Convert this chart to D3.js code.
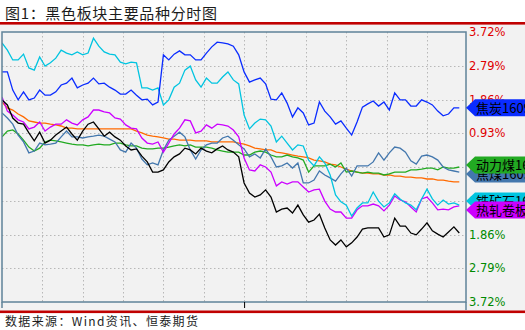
<!DOCTYPE html>
<html>
<head>
<meta charset="utf-8">
<script src="https://cdnjs.cloudflare.com/ajax/libs/d3/7.8.5/d3.min.js"></script>
<style>
body { margin:0; background:#ffffff; }
</style>
</head>
<body>
<script>
// time axis: minutes from the open, one sample every 4 minutes
var minutes = d3.range(0, 344, 4);

// y tick labels (percent change)
var yTicks = [3.72, 2.79, 1.86, 0.93, 0, -0.93, -1.86, -2.79, -3.72];
// vertical grid (minutes), 180 = day session start
var gridMinutes = [30, 60, 90, 120, 150, 180, 196, 226, 256, 286, 316];
var dayMark = [180];

// series values, % change
var jiaotan = [2.62,2.62,2.12,1.85,2.07,1.85,1.90,2.12,1.98,1.98,
  2.07,2.26,2.31,2.45,2.18,2.26,2.31,2.45,2.29,2.31,
  2.20,2.12,2.01,2.01,2.12,1.98,1.85,1.87,1.71,1.79,
  3.09,2.95,3.11,3.20,3.09,3.09,2.95,2.95,3.14,3.31,
  3.44,3.42,3.39,3.33,3.09,2.62,2.34,2.40,2.45,2.29,
  1.87,1.85,2.04,1.76,1.38,1.63,1.49,1.16,1.21,1.79,
  1.54,1.38,1.18,1.27,1.07,0.88,1.24,1.65,1.74,1.82,
  1.68,1.79,1.57,2.04,1.85,1.85,1.68,1.68,1.85,1.79,
  1.71,1.54,1.41,1.46,1.63,1.63];

var tiekuang = [3.42,3.22,2.95,2.95,3.11,2.73,2.67,3.03,2.78,2.87,
  3.00,3.22,3.14,3.09,3.17,3.09,3.14,3.55,3.33,3.17,
  3.11,3.09,2.89,2.84,2.89,2.87,2.18,2.18,2.12,2.18,
  1.71,1.85,2.20,2.31,2.67,2.78,2.40,2.20,2.45,2.31,
  2.31,2.48,2.62,2.40,2.29,1.43,1.05,1.21,1.32,1.30,
  1.13,0.69,0.85,0.66,0.47,0.61,0.58,0.19,0.03,0.28,
  0.11,-0.22,-0.77,-0.96,-1.05,-1.35,-1.13,-0.99,-0.99,-0.69,
  -0.94,-1.10,-0.99,-0.74,-0.88,-0.99,-1.05,-1.18,-0.88,-0.61,
  -0.88,-1.05,-0.91,-1.02,-0.99,-1.05];

var luowen = [1.85,1.71,1.35,1.21,1.18,0.94,0.72,0.96,0.66,0.74,
  0.88,0.99,1.10,0.91,0.74,0.99,1.18,1.24,1.05,0.85,
  0.96,0.83,0.74,0.58,0.47,0.50,0.30,0.14,-0.14,-0.14,
  -0.08,0.14,0.28,0.36,0.52,0.47,0.36,0.52,0.44,0.39,
  0.50,0.58,0.47,0.41,0.28,-0.44,-0.72,-0.83,-0.77,-0.63,
  -0.83,-1.24,-1.16,-1.13,-1.27,-1.05,-1.32,-1.52,-1.46,-1.30,
  -1.68,-2.01,-2.15,-2.01,-2.20,-2.09,-1.93,-1.71,-1.68,-1.68,
  -1.68,-1.93,-1.87,-1.41,-1.63,-1.63,-1.82,-1.87,-1.71,-1.54,
  -1.76,-1.85,-1.93,-1.79,-1.65,-1.82];

var rezha = [1.93,1.54,1.43,1.30,1.24,1.05,1.10,1.24,0.99,1.10,
  1.18,1.18,1.30,1.21,1.16,1.30,1.38,1.57,1.57,1.52,
  1.49,1.35,1.32,1.16,1.07,1.05,0.80,0.66,0.63,0.69,
  0.41,0.66,0.91,1.07,1.30,1.27,0.94,0.99,1.16,1.07,
  1.18,1.16,1.13,1.02,0.83,0.25,-0.08,-0.11,0.06,0.00,
  -0.14,-0.52,-0.41,-0.47,-0.41,-0.41,-0.55,-0.69,-0.63,-0.61,
  -0.94,-1.16,-1.24,-1.24,-1.41,-1.41,-1.18,-1.07,-1.07,-1.02,
  -1.07,-1.21,-1.05,-0.80,-0.91,-0.96,-1.10,-1.24,-0.88,-0.83,
  -0.99,-1.18,-1.16,-1.18,-1.10,-1.07];

var junjia = [1.79,1.63,1.57,1.46,1.38,1.27,1.24,1.21,1.21,1.18,
  1.16,1.13,1.07,1.07,1.05,1.05,1.05,1.05,1.05,1.05,
  1.05,1.05,1.05,1.05,1.05,0.99,0.94,0.88,0.85,0.83,
  0.80,0.77,0.77,0.74,0.74,0.74,0.72,0.72,0.72,0.69,
  0.69,0.69,0.69,0.69,0.66,0.63,0.58,0.52,0.50,0.47,
  0.47,0.41,0.39,0.36,0.33,0.30,0.28,0.25,0.19,0.17,
  0.14,0.08,0.06,0.00,-0.06,-0.11,-0.14,-0.17,-0.17,-0.19,
  -0.19,-0.22,-0.22,-0.25,-0.25,-0.28,-0.28,-0.30,-0.30,-0.33,
  -0.33,-0.36,-0.36,-0.39,-0.41,-0.41];

var jiaomei = [1.49,1.35,1.18,0.88,0.69,0.39,0.44,0.66,0.61,0.63,
  0.66,0.83,0.99,0.83,0.83,0.80,0.83,0.85,0.88,0.85,
  0.77,0.69,0.47,0.41,0.66,0.52,0.22,0.06,0.11,0.06,
  0.47,0.74,0.85,0.96,0.83,0.47,0.22,0.47,0.61,0.66,
  0.66,0.80,0.85,0.74,0.61,0.50,0.28,0.36,0.25,0.50,
  0.28,0.00,0.03,0.11,-0.03,0.11,-0.44,-0.44,-0.36,-0.11,
  -0.22,-0.30,-0.39,-0.19,-0.03,-0.25,0.03,0.03,0.03,0.14,
  0.39,0.19,0.39,0.55,0.52,0.41,0.17,0.08,0.30,0.33,
  0.28,0.19,0.00,-0.08,-0.11,-0.14];

var donglimei = [0.83,0.99,1.02,0.91,0.74,0.55,0.44,0.52,0.69,0.74,
  0.72,0.69,0.66,0.63,0.61,0.61,0.58,0.61,0.63,0.61,
  0.61,0.66,0.66,0.61,0.58,0.58,0.52,0.50,0.50,0.52,
  0.52,0.55,0.58,0.61,0.58,0.61,0.55,0.55,0.55,0.52,
  0.47,0.44,0.41,0.41,0.41,0.33,0.33,0.41,0.44,0.41,
  0.33,0.28,0.28,0.33,0.28,0.25,0.19,-0.14,0.03,0.03,
  0.03,0.08,0.00,0.11,-0.14,-0.11,-0.14,-0.17,-0.14,-0.17,
  -0.17,-0.22,-0.19,-0.14,-0.14,-0.14,-0.08,-0.08,-0.06,-0.03,
  -0.03,-0.08,0.00,-0.03,-0.03,0.00];

function DrawChart()
{
  var W = 525, H = 330;
  var plot = {left: 2, right: 466, top: 32, bottom: 302};

  // series table, drawing order = list order; tagOrder = order of the right-edge tags
  var series = [
    {name: "均价", values: junjia, color: "#ff6a00", tagOrder: -1},
    {name: "动力煤1609", values: donglimei, color: "#22aa22", tagOrder: 2},
    {name: "焦煤1609", values: jiaomei, color: "#4377ad", tagOrder: 1},
    {name: "热轧卷板1610", values: rezha, color: "#cc00ff", tagOrder: 4},
    {name: "铁矿石1609", values: tiekuang, color: "#00c4e0", tagOrder: 3},
    {name: "螺纹钢1610", values: luowen, color: "#000000", tagOrder: -1},
    {name: "焦炭1609", values: jiaotan, color: "#0a2cff", tagOrder: 0}
  ];

  var svg = d3.select("body").append("svg")
      .attr("width", W)
      .attr("height", H);

  // gray panel + red rules
  svg.append("rect").attr("x", 0).attr("y", 24).attr("width", W).attr("height", 287)
      .attr("fill", "#f2f2f2");
  svg.append("rect").attr("x", 0).attr("y", 22).attr("width", W).attr("height", 2.6)
      .attr("fill", "#c00000");
  svg.append("rect").attr("x", 0).attr("y", 310.5).attr("width", W).attr("height", 2.6)
      .attr("fill", "#c00000");

  // title
  svg.append("text")
      .attr("x", 5).attr("y", 18.5)
      .attr("textLength", 212).attr("lengthAdjust", "spacing")
      .style("font-family", "'Noto Sans CJK SC'")
      .style("font-size", "15px")
      .style("fill", "#1c1c1c")
      .text("图1：黑色板块主要品种分时图");

  // footer
  svg.append("text")
      .attr("x", 5).attr("y", 325.5)
      .attr("textLength", 193).attr("lengthAdjust", "spacing")
      .style("font-family", "'Noto Sans CJK SC'")
      .style("font-size", "12px")
      .style("fill", "#1c1c1c")
      .text("数据来源：Wind资讯、恒泰期货");

  // scales
  var xScale = d3.scaleLinear().domain([0, 345]).range([plot.left, plot.right]);
  var yScale = d3.scaleLinear().domain([-3.72, 3.72]).range([plot.bottom, plot.top]);

  // dotted grid
  svg.append("g").selectAll("line")
      .data(gridMinutes)
      .enter().append("line")
      .attr("x1", function(d) { return Math.round(xScale(d)) + 0.5; })
      .attr("x2", function(d) { return Math.round(xScale(d)) + 0.5; })
      .attr("y1", plot.top).attr("y2", plot.bottom)
      .attr("stroke", "#b8b8b8").attr("stroke-dasharray", "1.5,2.5");
  svg.append("g").selectAll("line")
      .data(yTicks.slice(1, -1))
      .enter().append("line")
      .attr("x1", plot.left).attr("x2", plot.right)
      .attr("y1", function(d) { return Math.round(yScale(d)) + 0.5; })
      .attr("y2", function(d) { return Math.round(yScale(d)) + 0.5; })
      .attr("stroke", "#b8b8b8").attr("stroke-dasharray", "1.5,2.5");

  // lines, clipped to the plot box
  svg.append("clipPath").attr("id", "clip")
    .append("rect")
      .attr("x", plot.left).attr("y", plot.top)
      .attr("width", plot.right - plot.left).attr("height", plot.bottom - plot.top);

  var line = d3.line()
      .x(function(d, i) { return xScale(minutes[i]); })
      .y(function(d) { return yScale(d); });

  svg.append("g").attr("clip-path", "url(#clip)")
    .selectAll("path")
      .data(series)
      .enter().append("path")
      .attr("d", function(s) { return line(s.values); })
      .attr("fill", "none")
      .attr("stroke", function(s) { return s.color; })
      .attr("stroke-width", 1.3)
      .attr("stroke-linejoin", "miter");

  // frame
  var frame = "#5f8399";
  svg.append("rect")
      .attr("x", plot.left).attr("y", plot.top)
      .attr("width", plot.right - plot.left).attr("height", plot.bottom - plot.top)
      .attr("fill", "none").attr("stroke", frame).attr("stroke-width", 1.5);
  svg.append("line").attr("x1", plot.left).attr("x2", plot.left)
      .attr("y1", plot.bottom).attr("y2", 308).attr("stroke", frame).attr("stroke-width", 1.5);
  svg.append("line").attr("x1", plot.right).attr("x2", plot.right)
      .attr("y1", plot.bottom).attr("y2", 310).attr("stroke", frame).attr("stroke-width", 1.5);

  // day-session mark under the plot
  svg.append("g").attr("transform", "translate(0," + plot.bottom + ")")
      .call(d3.axisBottom(xScale).tickValues(dayMark).tickSize(6).tickFormat(""))
      .call(function(g) { g.select(".domain").remove(); })
      .selectAll("line").attr("stroke", "#000");

  // right axis labels
  var yAxis = svg.append("g")
      .attr("transform", "translate(" + (plot.right + 2) + ",0)")
      .call(d3.axisRight(yScale).tickValues(yTicks).tickSize(0).tickPadding(1)
        .tickFormat(function(d) { return Math.abs(d).toFixed(2) + "%"; }));
  yAxis.select(".domain").remove();
  yAxis.selectAll("text")
      .style("font-family", "'DejaVu Sans'")
      .style("font-size", "11.5px")
      .style("fill", function(d) { return d > 0 ? "#e00000" : (d < 0 ? "#008a00" : "#333"); });

  // value tags at the right edge, nudged apart when they collide
  var tags = series.filter(function(s) { return s.tagOrder >= 0; }).map(function(s) {
    return {s: s, y: yScale(s.values[s.values.length - 1])};
  });
  var sorted = tags.slice().sort(function(a, b) { return a.y - b.y; });
  for (var k = 0; k < 3; k++) {
    for (var i = 1; i < sorted.length; i++) {
      var gap = sorted[i].y - sorted[i - 1].y;
      if (gap < 9) {
        sorted[i - 1].y -= (9 - gap) / 2;
        sorted[i].y += (9 - gap) / 2;
      }
    }
  }
  tags.sort(function(a, b) { return a.s.tagOrder - b.s.tagOrder; });

  var tag = svg.append("g").selectAll("g")
      .data(tags)
      .enter().append("g")
      .attr("transform", function(d) { return "translate(" + plot.right + "," + d.y + ")"; });
  tag.append("path")
      .attr("d", "M0,0L9,-8.5L70,-8.5L70,8.5L9,8.5Z")
      .attr("fill", function(d) { return d.s.color; });
  tag.append("text")
      .attr("x", 10).attr("y", 5)
      .style("font-family", "'Noto Sans CJK SC'")
      .style("font-size", "13px")
      .style("fill", "#000")
      .text(function(d) { return d.s.name; });
}

DrawChart();
</script>
</body>
</html>
